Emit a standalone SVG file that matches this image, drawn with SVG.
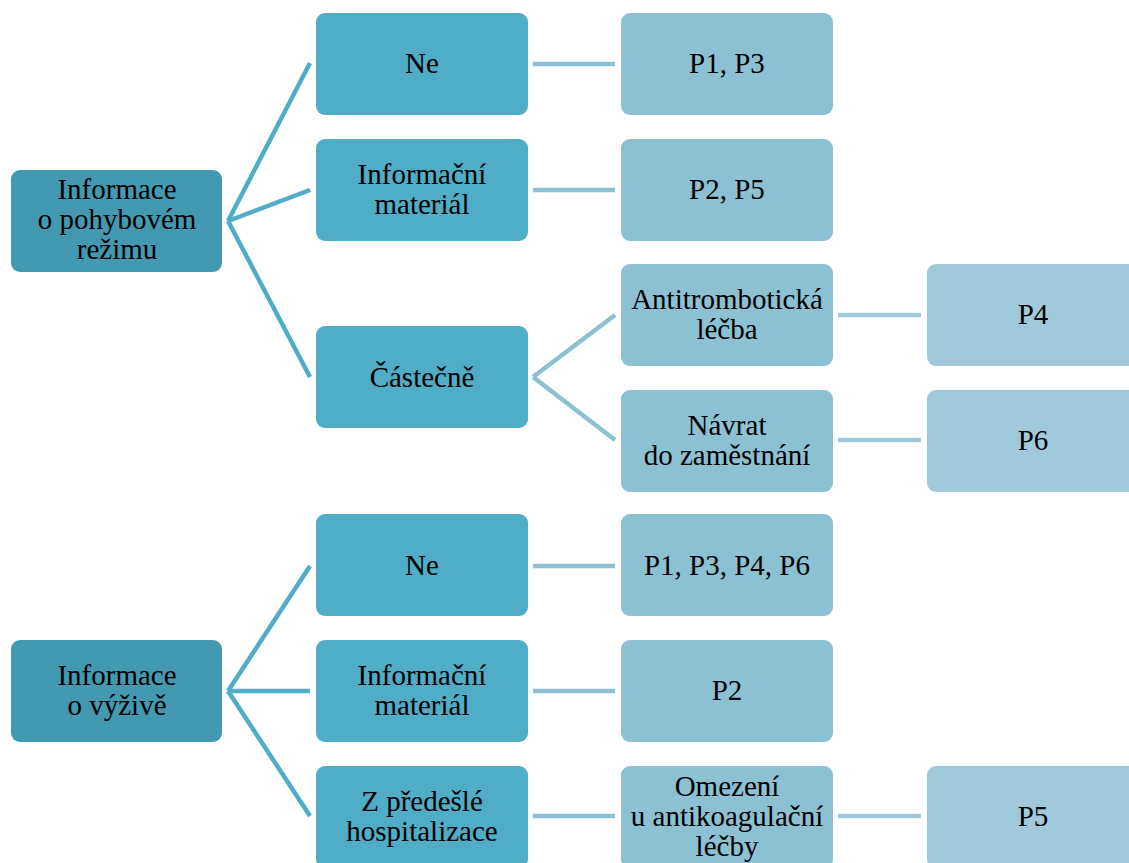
<svg xmlns="http://www.w3.org/2000/svg" width="1129" height="863" viewBox="0 0 1129 863">
<style>
.t text{font-size:29px;fill:#000;text-anchor:middle}
.r{fill:#4399b2}
.a{fill:#4fadc8}
.b{fill:#8cc1d4}
.c{fill:#a0cadc}
.la{stroke:#4fadc8;stroke-width:4.5;fill:none}
.lb{stroke:#8cc1d4;stroke-width:4.5;fill:none}
.lc{stroke:#a0cadc;stroke-width:4.5;fill:none}
</style>
<rect width="1129" height="863" fill="#fff"/>
<g id="connectors">
<path class="la" d="M228 221 L310 63 M228 221 L310 190 M228 221 L310 377"/>
<path class="lb" d="M533 64 L615 64 M533 190 L615 190 M533 377 L615 315 M533 377 L615 440"/>
<path class="lc" d="M838 315 L921 315 M838 440 L921 440"/>
<path class="la" d="M228 691 L310 566 M228 691 L310 691 M228 691 L310 816"/>
<path class="lb" d="M533 566 L615 566 M533 691 L615 691 M533 816 L615 816"/>
<path class="lc" d="M838 816 L921 816"/>
</g>
<g class="t" font-family="'Liberation Serif', 'Times New Roman', serif">
<g id="root1"><rect class="r" x="11" y="170" width="211" height="102" rx="9"/><text x="117" y="199">Informace</text><text x="117" y="229">o pohybovém</text><text x="117" y="259">režimu</text></g>
<g id="ne1"><rect class="a" x="316" y="13" width="212" height="102" rx="9"/><text x="422" y="73">Ne</text></g>
<g id="im1"><rect class="a" x="316" y="139" width="212" height="102" rx="9"/><text x="422" y="184">Informační</text><text x="422" y="214">materiál</text></g>
<g id="cast"><rect class="a" x="316" y="326" width="212" height="102" rx="9"/><text x="422" y="387">Částečně</text></g>
<g id="p13"><rect class="b" x="621" y="13" width="212" height="102" rx="9"/><text x="727" y="73">P1, P3</text></g>
<g id="p25"><rect class="b" x="621" y="139" width="212" height="102" rx="9"/><text x="727" y="199">P2, P5</text></g>
<g id="anti"><rect class="b" x="621" y="264" width="212" height="102" rx="9"/><text x="727" y="309">Antitrombotická</text><text x="727" y="339">léčba</text></g>
<g id="navrat"><rect class="b" x="621" y="390" width="212" height="102" rx="9"/><text x="727" y="435">Návrat</text><text x="727" y="465">do zaměstnání</text></g>
<g id="p4"><rect class="c" x="927" y="264" width="212" height="102" rx="9"/><text x="1033" y="324">P4</text></g>
<g id="p6"><rect class="c" x="927" y="390" width="212" height="102" rx="9"/><text x="1033" y="450">P6</text></g>
<g id="root2"><rect class="r" x="11" y="640" width="211" height="102" rx="9"/><text x="117" y="685">Informace</text><text x="117" y="715">o výživě</text></g>
<g id="ne2"><rect class="a" x="316" y="514" width="212" height="102" rx="9"/><text x="422" y="575">Ne</text></g>
<g id="im2"><rect class="a" x="316" y="640" width="212" height="102" rx="9"/><text x="422" y="685">Informační</text><text x="422" y="715">materiál</text></g>
<g id="zpred"><rect class="a" x="316" y="766" width="212" height="102" rx="9"/><text x="422" y="811">Z předešlé</text><text x="422" y="841">hospitalizace</text></g>
<g id="p1346"><rect class="b" x="621" y="514" width="212" height="102" rx="9"/><text x="727" y="575">P1, P3, P4, P6</text></g>
<g id="p2"><rect class="b" x="621" y="640" width="212" height="102" rx="9"/><text x="727" y="700">P2</text></g>
<g id="omez"><rect class="b" x="621" y="766" width="212" height="102" rx="9"/><text x="727" y="796">Omezení</text><text x="727" y="826">u antikoagulační</text><text x="727" y="856">léčby</text></g>
<g id="p5"><rect class="c" x="927" y="766" width="212" height="102" rx="9"/><text x="1033" y="826">P5</text></g>
</g>
</svg>
